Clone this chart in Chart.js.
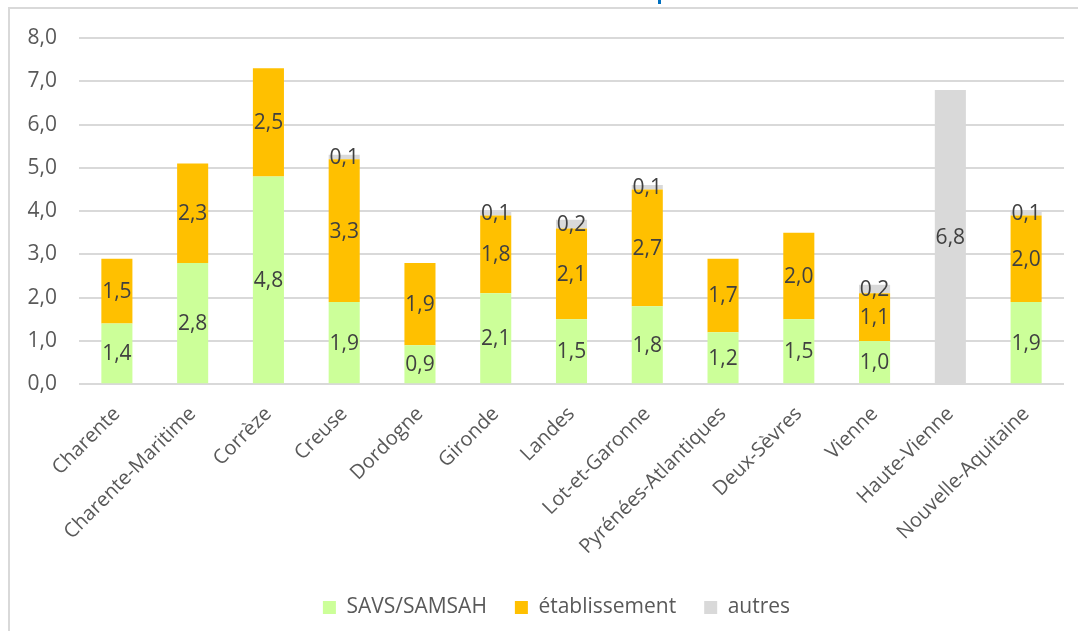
<!DOCTYPE html>
<html>
<head>
<meta charset="utf-8">
<script src="https://cdn.jsdelivr.net/npm/chart.js@4"></script>
<style>
  body { margin: 0; background: #fff; }
  #wrap { position: absolute; left: 0; top: 0; width: 1078px; height: 631px; }
  #frame { position: absolute; left: 8px; top: 7px; width: 1080px; height: 640px;
           border-left: 2px solid #d9d9d9; border-top: 2px solid #d9d9d9; }
  #titleCut { position: absolute; left: 658px; top: 0; width: 3px; height: 4px; background: #0070c0; }
</style>
</head>
<body>
<div id="wrap">
  <div id="frame"></div>
  <div id="titleCut"></div>
  <canvas id="chart" width="1078" height="631"></canvas>
</div>
<script>
const categories = ['Charente', 'Charente-Maritime', 'Corrèze', 'Creuse', 'Dordogne', 'Gironde',
  'Landes', 'Lot-et-Garonne', 'Pyrénées-Atlantiques', 'Deux-Sèvres', 'Vienne', 'Haute-Vienne',
  'Nouvelle-Aquitaine'];
const savs = [1.4, 2.8, 4.8, 1.9, 0.9, 2.1, 1.5, 1.8, 1.2, 1.5, 1.0, 0, 1.9];
const etablissement = [1.5, 2.3, 2.5, 3.3, 1.9, 1.8, 2.1, 2.7, 1.7, 2.0, 1.1, 0, 2.0];
const autres = [0, 0, 0, 0.1, 0, 0.1, 0.2, 0.1, 0, 0, 0.2, 6.8, 0.1];

const fmt = v => v.toFixed(1).replace('.', ',');
const fontFamily = '"Open Sans", sans-serif';

// étiquettes de valeurs au centre de chaque segment
const segmentLabels = {
  id: 'segmentLabels',
  afterLayout(chart) {
    // la légende est centrée sur le cadre, pas sur la fenêtre
    chart.legend.left += 11;
    chart.legend.right += 11;
  },
  afterDatasetsDraw(chart) {
    const ctx = chart.ctx;
    ctx.save();
    ctx.font = '21px ' + fontFamily;
    ctx.fillStyle = '#404040';
    ctx.textAlign = 'center';
    ctx.textBaseline = 'middle';
    chart.data.datasets.forEach((ds, di) => {
      const meta = chart.getDatasetMeta(di);
      meta.data.forEach((bar, i) => {
        const v = ds.data[i];
        if (!v) return;
        const p = bar.getCenterPoint();
        ctx.fillText(fmt(v), p.x, p.y + 1);
      });
    });
    ctx.restore();
  }
};

new Chart(document.getElementById('chart'), {
  type: 'bar',
  data: {
    labels: categories,
    datasets: [
      { label: 'SAVS/SAMSAH', data: savs, backgroundColor: '#ccff99' },
      { label: 'établissement', data: etablissement, backgroundColor: '#ffc000' },
      { label: 'autres', data: autres, backgroundColor: '#d9d9d9' }
    ]
  },
  options: {
    responsive: false,
    animation: false,
    layout: { padding: { left: 27, right: 14, top: 38, bottom: 3 } },
    datasets: { bar: { categoryPercentage: 1, barPercentage: 0.41 } },
    scales: {
      x: {
        stacked: true,
        grid: { display: false },
        border: { display: false },
        ticks: {
          color: '#595959', font: { family: fontFamily, size: 20 },
          maxRotation: 45, minRotation: 45, padding: 10
        },
        // les étiquettes inclinées débordent à gauche, comme dans Excel
        afterFit(axis) { axis.paddingLeft = 0; }
      },
      y: {
        stacked: true,
        min: 0, max: 8,
        border: { display: false },
        grid: { color: '#d9d9d9', lineWidth: 2, drawTicks: false },
        ticks: {
          stepSize: 1, padding: 22, color: '#595959',
          font: { family: fontFamily, size: 21 },
          callback: v => fmt(v)
        },
        afterFit(axis) { axis.width = 52; }
      }
    },
    plugins: {
      legend: {
        position: 'bottom',
        labels: {
          color: '#595959', font: { family: fontFamily, size: 21 },
          boxWidth: 13, boxHeight: 13, padding: 28
        }
      },
      tooltip: { enabled: false }
    }
  },
  plugins: [segmentLabels]
});
</script>
</body>
</html>
